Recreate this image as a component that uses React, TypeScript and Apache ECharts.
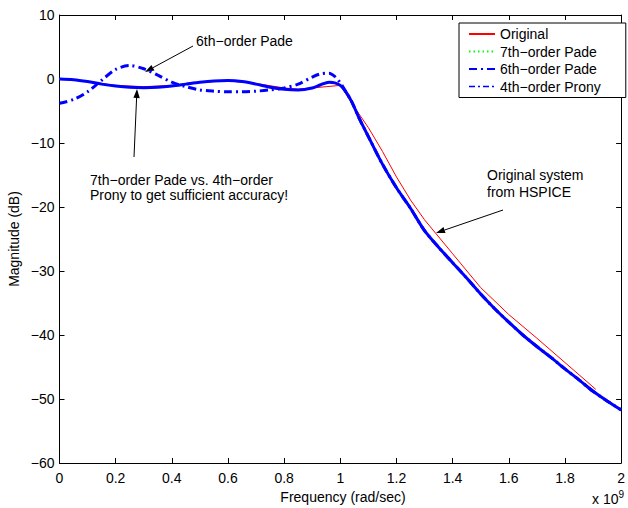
import React, { useEffect, useRef } from "react";
import * as echarts from "echarts";

const FONT = '"Liberation Sans", Arial, Helvetica, sans-serif';

// Frequency ticks (x 10^9 rad/sec) and magnitude ticks (dB)
const xTicks = { min: 0, max: 2, interval: 0.2 };
const yTicks = { min: -60, max: 10, interval: 10 };

// Original system (HSPICE) – red
const origFreq = [0, 0.1, 0.2, 0.3, 0.4, 0.5, 0.6, 0.7, 0.8, 0.85, 0.9, 0.95, 1.0, 1.05, 1.1, 1.15, 1.2, 1.25, 1.3, 1.4, 1.5, 1.6, 1.7, 1.8, 1.91];
const origMag = [0, -0.4, -1.0, -1.2, -1.0, -0.5, -0.3, -0.7, -1.4, -1.6, -1.4, -1.2, -1.0, -4.4, -7.6, -11.3, -15.3, -18.9, -22.0, -27.3, -32.6, -36.8, -40.5, -44.3, -48.5];

// Reduced-order models share a frequency grid
const fitFreq = [0, 0.05, 0.1, 0.15, 0.2, 0.25, 0.3, 0.35, 0.4, 0.45, 0.5, 0.55, 0.6, 0.65, 0.7, 0.75, 0.8, 0.85, 0.9, 0.93, 0.96, 0.98, 1.0, 1.02, 1.04, 1.07, 1.1, 1.15, 1.2, 1.25, 1.3, 1.35, 1.4, 1.45, 1.5, 1.55, 1.6, 1.65, 1.7, 1.75, 1.8, 1.85, 1.9, 1.95, 2.0];
const pade7Mag = [0, -0.1, -0.4, -0.8, -1.1, -1.3, -1.35, -1.3, -1.1, -0.8, -0.5, -0.3, -0.25, -0.4, -0.8, -1.3, -1.6, -1.7, -1.4, -0.8, -0.4, -0.5, -1.0, -2.0, -3.5, -6.4, -9.0, -13.3, -17.0, -20.2, -23.7, -26.3, -28.7, -31.1, -33.6, -35.9, -38.0, -40.0, -41.8, -43.5, -45.3, -47.0, -48.8, -50.3, -51.7];
const pade6Mag = [-3.8, -3.2, -2.0, -0.2, 1.5, 2.1, 1.6, 0.6, -0.5, -1.2, -1.7, -1.9, -2.0, -2.0, -1.9, -1.7, -1.4, -0.8, 0.3, 0.8, 0.9, 0.4, -0.6, -2.0, -3.5, -6.4, -9.0, -13.3, -17.0, -20.2, -23.7, -26.3, -28.7, -31.1, -33.6, -35.9, -38.0, -40.0, -41.8, -43.5, -45.3, -47.0, -48.8, -50.3, -51.7];
const prony4Mag = [0, -0.1, -0.4, -0.8, -1.1, -1.3, -1.35, -1.3, -1.1, -0.8, -0.5, -0.3, -0.25, -0.4, -0.8, -1.3, -1.6, -1.7, -1.4, -0.9, -0.5, -0.6, -1.0, -2.0, -3.5, -6.4, -9.0, -13.3, -17.0, -20.2, -23.7, -26.3, -28.7, -31.1, -33.6, -35.9, -38.0, -40.0, -41.8, -43.5, -45.3, -47.0, -48.8, -50.3, -51.7];

const seriesNames = ["Original", "7th\u2212order Pade", "6th\u2212order Pade", "4th\u2212order Prony"];

const zip = (xs: number[], ys: number[]) => xs.map((x, i) => [x, ys[i]]);

function arrow(x1: number, y1: number, x2: number, y2: number) {
  const dx = x2 - x1, dy = y2 - y1;
  const len = Math.hypot(dx, dy);
  const ux = dx / len, uy = dy / len;
  const hl = 9, hw = 3.2;
  const bx = x2 - ux * hl, by = y2 - uy * hl;
  const nx = -uy, ny = ux;
  return [
    { type: "line", shape: { x1, y1, x2: bx, y2: by }, style: { stroke: "#000", lineWidth: 1 } },
    {
      type: "polygon",
      shape: { points: [[x2, y2], [bx + nx * hw, by + ny * hw], [bx - nx * hw, by - ny * hw]] },
      style: { fill: "#000" },
    },
  ];
}

const txt = (x: number, y: number, text: string, extra: any = {}) => ({
  type: "text",
  x,
  y,
  style: { text, font: `14px ${FONT}`, fill: "#000", textVerticalAlign: "middle", ...extra },
});

export default function App() {
  const ref = useRef<HTMLDivElement>(null);
  useEffect(() => {
    document.body.style.margin = "0";
    const chart = echarts.init(ref.current!, undefined, { renderer: "svg" });
    const axisCommon = {
      axisLine: { show: true, onZero: false, lineStyle: { color: "#000", width: 1 } },
      axisTick: { show: true, inside: true, length: 5, lineStyle: { color: "#000" } },
      splitLine: { show: false },
    };
    chart.setOption({
      animation: false,
      backgroundColor: "#fff",
      grid: { left: 59.5, right: 1.3, top: 15, bottom: 45, containLabel: false },
      xAxis: [
        {
          type: "value",
          ...xTicks,
          position: "bottom",
          ...axisCommon,
          axisLabel: {
            color: "#000",
            fontFamily: FONT,
            fontSize: 14,
            margin: 8,
            formatter: (v: number) => String(+v.toFixed(1)),
          },
        },
        {
          type: "value",
          ...xTicks,
          position: "top",
          ...axisCommon,
          axisLabel: { show: false },
        },
      ],
      yAxis: [
        {
          type: "value",
          ...yTicks,
          position: "left",
          ...axisCommon,
          axisLabel: {
            color: "#000",
            fontFamily: FONT,
            fontSize: 14,
            margin: 5,
            formatter: (v: number) => (v < 0 ? "\u2212" + Math.abs(v) : String(v)),
          },
        },
        {
          type: "value",
          ...yTicks,
          position: "right",
          ...axisCommon,
          axisLabel: { show: false },
        },
      ],
      legend: {
        orient: "vertical",
        left: 459,
        top: 23,
        backgroundColor: "#fff",
        borderColor: "#000",
        borderWidth: 1,
        borderRadius: 0,
        padding: [4, 25, 4, 9],
        itemWidth: 26,
        itemHeight: 12,
        itemGap: 3.5,
        itemStyle: { opacity: 0 },
        textStyle: { color: "#000", fontFamily: FONT, fontSize: 14, lineHeight: 14 },
        data: [
          { name: seriesNames[0] },
          { name: seriesNames[1] },
          { name: seriesNames[2] },
          { name: seriesNames[3], lineStyle: { type: [6, 3, 2, 3], width: 1.5 } },
        ],
      },
      series: [
        {
          name: seriesNames[0],
          type: "line",
          data: zip(origFreq, origMag),
          symbol: "none",
          lineStyle: { color: "#ff0000", width: 1 },
          itemStyle: { color: "#ff0000" },
        },
        {
          name: seriesNames[1],
          type: "line",
          data: zip(fitFreq, pade7Mag),
          symbol: "none",
          smooth: 0.3,
          lineStyle: { color: "#00ff00", width: 1.5, type: [1.5, 3] },
          itemStyle: { color: "#00ff00" },
        },
        {
          name: seriesNames[2],
          type: "line",
          data: zip(fitFreq, pade6Mag),
          symbol: "none",
          smooth: 0.3,
          lineStyle: { color: "#0000ff", width: 3, type: [8, 4, 2, 4] },
          itemStyle: { color: "#0000ff" },
        },
        {
          name: seriesNames[3],
          type: "line",
          data: zip(fitFreq, prony4Mag),
          symbol: "none",
          smooth: 0.3,
          lineStyle: { color: "#0000ff", width: 3 },
          itemStyle: { color: "#0000ff" },
        },
      ],
      graphic: [
        txt(196, 41, "6th\u2212order Pade"),
        ...arrow(193, 46, 145, 72),
        txt(90, 180, "7th\u2212order Pade vs. 4th\u2212order"),
        txt(90, 195, "Prony to get sufficient accuracy!"),
        ...arrow(134, 157, 137, 89),
        txt(487, 175, "Original system"),
        txt(487, 192, "from HSPICE"),
        ...arrow(503, 210, 436, 233),
        txt(343, 497, "Frequency (rad/sec)", { textAlign: "center" }),
        {
          type: "text",
          x: 14,
          y: 239,
          rotation: Math.PI / 2,
          style: {
            text: "Magnitude (dB)",
            font: `14px ${FONT}`,
            fill: "#000",
            textAlign: "center",
            textVerticalAlign: "middle",
          },
        },
        {
          type: "text",
          x: 592,
          y: 499,
          style: {
            text: "x 10{sup|9}",
            font: `14px ${FONT}`,
            fill: "#000",
            textVerticalAlign: "middle",
            rich: { sup: { fontSize: 10, fontFamily: FONT, verticalAlign: "top", padding: [0, 0, 9, 0] } },
          },
        },
      ],
    });
    return () => chart.dispose();
  }, []);
  return <div ref={ref} style={{ width: 628, height: 508 }} />;
}
